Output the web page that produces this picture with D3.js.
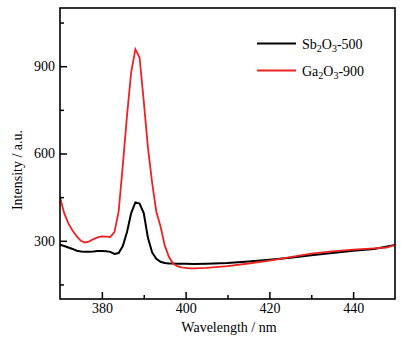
<!DOCTYPE html>
<html><head><meta charset="utf-8">
<script src="https://cdn.jsdelivr.net/npm/d3@7"></script>
<style>body{margin:0;background:#fff}svg{display:block}text{font-family:"Liberation Serif","Times New Roman",serif;fill:#000}</style>
</head><body>
<script>
const wavelengthsSb = [370,371,372,373,374,375,376,377,378,379,380,381,382,383,384,385,386,387,388,389,390,391,392,393,394,395,396,397,398,400,402,405,410,415,420,425,430,435,440,445,450];
const valuesSb = [287,282,277,272,266,263,262,262,263,265,265,264,262,255,258,282,330,395,432,428,395,310,260,238,228,224,222,222,221,221,220,221,224,229,235,242,250,258,266,272,286];
const wavelengthsGa = [370,371,372,373,374,375,376,377,378,379,380,381,382,383,384,385,386,387,388,389,390,391,392,393,394,395,396,397,398,399,400,401,402,405,410,415,420,425,430,435,440,445,448,450];
const valuesGa = [450,395,360,335,315,300,294,298,306,312,315,314,313,330,400,560,730,880,958,930,780,620,500,400,350,285,245,222,213,209,207,205,205,207,213,222,232,244,256,264,270,274,277,286];
const xTicks = [380,400,420,440];
const xMinor = [390,410,430];
const yTicks = [300,600,900];
const yMinor = [150,450,750,1050];
const seriesNames = [["Sb","2","O","3","-500"],["Ga","2","O","3","-900"]];
const colors = ["#000000","#ee2222"];

const W=409,H=344;
const m={l:60,r:395,t:8,b:299};
const svg=d3.select("body").append("svg").attr("width",W).attr("height",H);
const x=d3.scaleLinear().domain([370,450]).range([m.l,m.r]);
const y=d3.scaleLinear().domain([100,1100]).range([m.b,m.t]);

const clip=svg.append("clipPath").attr("id","c").append("rect").attr("x",m.l).attr("y",m.t).attr("width",m.r-m.l).attr("height",m.b-m.t);
const line=d3.line().x(d=>x(d[0])).y(d=>y(d[1]));
const g=svg.append("g").attr("clip-path","url(#c)");
g.append("path").datum(wavelengthsSb.map((w,i)=>[w,valuesSb[i]])).attr("d",line).attr("fill","none").attr("stroke",colors[0]).attr("stroke-width",2);
g.append("path").datum(wavelengthsGa.map((w,i)=>[w,valuesGa[i]])).attr("d",line).attr("fill","none").attr("stroke",colors[1]).attr("stroke-width",1.8);

// frame
svg.append("rect").attr("x",m.l).attr("y",m.t).attr("width",m.r-m.l).attr("height",m.b-m.t).attr("fill","none").attr("stroke","#000").attr("stroke-width",1.6);

// axes
const xa=svg.append("g").attr("transform",`translate(0,${m.b})`).call(d3.axisBottom(x).tickValues(xTicks).tickSize(-7).tickPadding(12).tickFormat(d3.format("d")));
const xm=svg.append("g").attr("transform",`translate(0,${m.b})`).call(d3.axisBottom(x).tickValues(xMinor).tickSize(-4).tickFormat(""));
const ya=svg.append("g").attr("transform",`translate(${m.l},0)`).call(d3.axisLeft(y).tickValues(yTicks).tickSize(-7).tickPadding(12).tickFormat(d3.format("d")));
const ym=svg.append("g").attr("transform",`translate(${m.l},0)`).call(d3.axisLeft(y).tickValues(yMinor).tickSize(-4).tickFormat(""));
[xa,xm,ya,ym].forEach(a=>{a.select(".domain").remove();a.selectAll("line").attr("stroke","#000").attr("stroke-width",1.5);a.selectAll("text").style("font-family","Liberation Serif").style("font-size","14px");});
xa.selectAll("text").attr("dy","0.71em").attr("y",4);
ya.selectAll("text").attr("x",-5);

svg.append("text").attr("x",229).attr("y",332).attr("text-anchor","middle").style("font-size","14px").text("Wavelength / nm");
svg.append("text").attr("transform","translate(22,170) rotate(-90)").attr("text-anchor","middle").style("font-size","14px").text("Intensity / a.u.");

// legend
seriesNames.forEach((parts,i)=>{
  const ly=43.5+i*27;
  svg.append("line").attr("x1",257).attr("x2",296).attr("y1",ly).attr("y2",ly).attr("stroke",colors[i]).attr("stroke-width",2);
  const t=svg.append("text").attr("x",302).attr("y",ly+5).style("font-size","14px");
  parts.forEach((p,j)=>{
    const sub=(j===1||j===3);
    const ts=t.append("tspan").text(p);
    if(sub){ts.style("font-size","10px").attr("dy",3);} else if(j>0){ts.attr("dy",-3);}
  });
});
</script>
</body></html>
